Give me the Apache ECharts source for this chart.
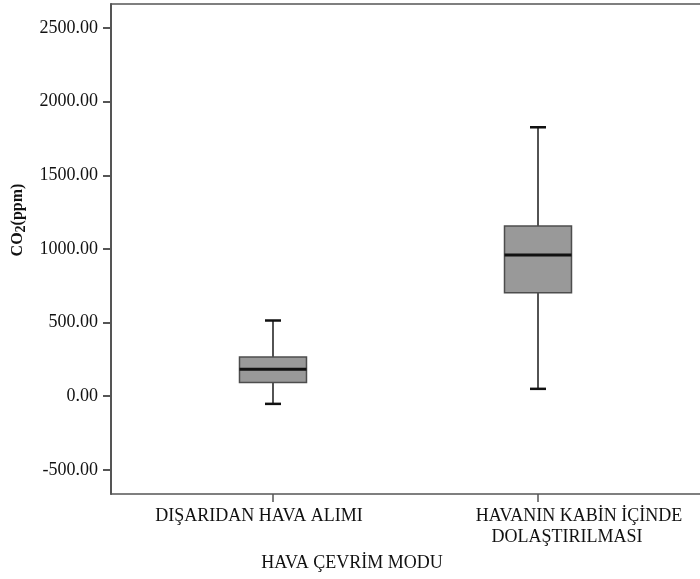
<!DOCTYPE html>
<html>
<head>
<meta charset="utf-8">
<script src="https://cdn.jsdelivr.net/npm/echarts@6/dist/echarts.min.js"></script>
<style>html,body{margin:0;padding:0;background:#fff;}#c{width:700px;height:579px;}</style>
</head>
<body>
<div id="c"></div>
<script>
const categories = ['DIŞARIDAN HAVA ALIMI', 'HAVANIN KABİN İÇİNDE\nDOLAŞTIRILMASI'];
const categoryPos = [1, 2];
const minVals = [-52, 50];
const q1Vals = [93, 702];
const medianVals = [183, 958];
const q3Vals = [267, 1155];
const maxVals = [514, 1826];
const yTicks = [-500, 0, 500, 1000, 1500, 2000, 2500];

const boxData = categoryPos.map((p, i) => [p, minVals[i], q1Vals[i], medianVals[i], q3Vals[i], maxVals[i]]);

const chart = echarts.init(document.getElementById('c'));
const FONT = '"Liberation Serif", "Times New Roman", serif';
const AXIS_COLOR = '#555';

function renderBox(params, api) {
  const x = api.value(0);
  const pMin = api.coord([x, api.value(1)]);
  const pQ1 = api.coord([x, api.value(2)]);
  const pMed = api.coord([x, api.value(3)]);
  const pQ3 = api.coord([x, api.value(4)]);
  const pMax = api.coord([x, api.value(5)]);
  const cx = pMed[0];
  const hw = 33.5, cap = 8;
  const whisk = {stroke: '#1a1a1a', lineWidth: 1.5};
  const capStyle = {stroke: '#111', lineWidth: 2.5};
  return {
    type: 'group',
    children: [
      {type: 'line', shape: {x1: cx, y1: pMax[1], x2: cx, y2: pQ3[1]}, style: whisk},
      {type: 'line', shape: {x1: cx, y1: pQ1[1], x2: cx, y2: pMin[1]}, style: whisk},
      {type: 'line', shape: {x1: cx - cap, y1: pMax[1], x2: cx + cap, y2: pMax[1]}, style: capStyle},
      {type: 'line', shape: {x1: cx - cap, y1: pMin[1], x2: cx + cap, y2: pMin[1]}, style: capStyle},
      {type: 'rect', shape: {x: cx - hw, y: pQ3[1], width: 2 * hw, height: pQ1[1] - pQ3[1]},
        style: {fill: '#999999', stroke: '#4d4d4d', lineWidth: 1.5}},
      {type: 'line', shape: {x1: cx - hw, y1: pMed[1], x2: cx + hw, y2: pMed[1]},
        style: {stroke: '#111', lineWidth: 3}}
    ]
  };
}

chart.setOption({
  backgroundColor: '#fff',
  animation: false,
  grid: {left: 111, top: 4, right: 0, bottom: 85, show: false},
  xAxis: [{
    type: 'value',
    min: 0.3887,
    max: 2.6113,
    name: 'HAVA ÇEVRİM MODU',
    nameLocation: 'middle',
    nameGap: 60,
    nameTextStyle: {fontFamily: FONT, fontSize: 18, color: '#111', padding: [0, 107, 0, 0]},
    axisLine: {show: true, onZero: false, lineStyle: {color: AXIS_COLOR, width: 1.5}},
    splitLine: {show: false},
    axisTick: {show: true, customValues: categoryPos, length: 8, lineStyle: {color: AXIS_COLOR, width: 1.5}},
    axisLabel: {
      customValues: categoryPos,
      margin: 12,
      formatter: function (v) {
        const i = Math.round(v) - 1;
        const lines = categories[i].split('\n');
        if (i === 0) return '{a|' + lines[0] + '}';
        return '{b1|' + lines[0] + '}\n{b2|' + lines[1] + '}';
      },
      rich: {
        a: {fontFamily: FONT, fontSize: 18, color: '#111', lineHeight: 21, padding: [0, 28, 0, 0]},
        b1: {fontFamily: FONT, fontSize: 18, color: '#111', lineHeight: 21, padding: [0, 0, 0, 82]},
        b2: {fontFamily: FONT, fontSize: 18, color: '#111', lineHeight: 21, padding: [0, 0, 0, 58]}
      }
    }
  }, {
    type: 'value',
    position: 'top',
    min: 0.3887,
    max: 2.6113,
    axisLine: {show: true, onZero: false, lineStyle: {color: AXIS_COLOR, width: 1.5}},
    axisTick: {show: false},
    axisLabel: {show: false},
    splitLine: {show: false}
  }],
  yAxis: {
    type: 'value',
    min: -664,
    max: 2663,
    name: '{m|CO}{s|2}{m|(ppm)}',
    nameLocation: 'middle',
    nameGap: 80,
    nameRotate: 90,
    nameTextStyle: {
      padding: [0, 0, 0, 58],
      rich: {
        m: {fontFamily: FONT, fontSize: 16, fontWeight: 'bold', color: '#111', lineHeight: 22},
        s: {fontFamily: FONT, fontSize: 14, fontWeight: 'bold', color: '#111', lineHeight: 14, verticalAlign: 'bottom'}
      }
    },
    axisLine: {show: true, onZero: false, lineStyle: {color: AXIS_COLOR, width: 2}},
    splitLine: {show: false},
    axisTick: {show: true, customValues: yTicks, length: 8, lineStyle: {color: AXIS_COLOR, width: 2}},
    axisLabel: {
      customValues: yTicks,
      margin: 13,
      fontFamily: FONT,
      fontSize: 18,
      color: '#111',
      formatter: v => v.toFixed(2)
    }
  },
  series: [{
    type: 'custom',
    xAxisIndex: 0,
    yAxisIndex: 0,
    renderItem: renderBox,
    encode: {x: 0, y: [1, 2, 3, 4, 5]},
    data: boxData,
    clip: false
  }]
});
</script>
</body>
</html>
